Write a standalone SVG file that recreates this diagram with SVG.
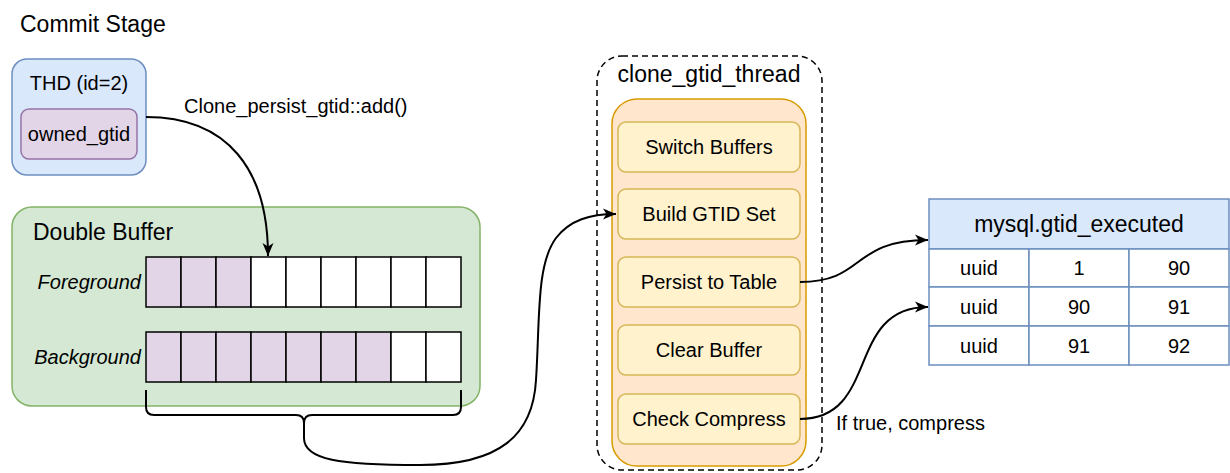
<svg xmlns="http://www.w3.org/2000/svg" width="1230" height="473" viewBox="0 0 1230 473">
<defs>
<style>
text{font-family:"Liberation Sans",Arial,Helvetica,sans-serif;fill:#000;}
.t{font-size:23px;}
.l{font-size:20px;}
.c{text-anchor:middle;}
.blue{fill:#dae8fc;stroke:#6c8ebf;stroke-width:1.5;}
.purple{fill:#e1d5e7;stroke:#9673a6;stroke-width:1.5;}
.green{fill:#d5e8d4;stroke:#82b366;stroke-width:1.5;}
.orange{fill:#ffe6cc;stroke:#d79b00;stroke-width:1.5;}
.yellow{fill:#fff2cc;stroke:#d6b656;stroke-width:1.5;}
.cellp{fill:#e1d5e7;stroke:#000;stroke-width:1.5;}
.cellw{fill:#fff;stroke:#000;stroke-width:1.5;}
.tcell{fill:#fff;stroke:#6c8ebf;stroke-width:1.5;}
.edge{fill:none;stroke:#000;stroke-width:2;}
.arrow{fill:none;stroke:#000;stroke-width:2;marker-end:url(#ah);}
</style>
<marker id="ah" markerUnits="userSpaceOnUse" markerWidth="14" markerHeight="12" refX="13" refY="6" orient="auto">
<path d="M0,0.5 L13,6 L0,11.5 L3.5,6 Z" fill="#000"/>
</marker>
</defs>
<rect width="1230" height="473" fill="#fff"/>

<g id="commit-stage-label">
<text class="t" x="20" y="32">Commit Stage</text>
</g>

<g id="thd">
<rect class="blue" x="12" y="59" width="134" height="116" rx="15"/>
<text class="l c" x="79" y="90">THD (id=2)</text>
</g>
<g id="owned-gtid">
<rect class="purple" x="21" y="109" width="116" height="50" rx="8"/>
<text class="l c" x="79" y="141">owned_gtid</text>
</g>

<g id="double-buffer">
<rect class="green" x="12" y="207" width="468" height="199" rx="20"/>
<text class="t" x="33" y="240">Double Buffer</text>
<text class="l" x="141" y="289" text-anchor="end" font-style="italic">Foreground</text>
<text class="l" x="141" y="364" text-anchor="end" font-style="italic">Background</text>
</g>

<g id="foreground-buffer">
<rect class="cellp" x="146" y="257" width="35" height="50"/>
<rect class="cellp" x="181" y="257" width="35" height="50"/>
<rect class="cellp" x="216" y="257" width="35" height="50"/>
<rect class="cellw" x="251" y="257" width="35" height="50"/>
<rect class="cellw" x="286" y="257" width="35" height="50"/>
<rect class="cellw" x="321" y="257" width="35" height="50"/>
<rect class="cellw" x="356" y="257" width="35" height="50"/>
<rect class="cellw" x="391" y="257" width="35" height="50"/>
<rect class="cellw" x="426" y="257" width="35" height="50"/>
</g>

<g id="background-buffer">
<rect class="cellp" x="146" y="332" width="35" height="50"/>
<rect class="cellp" x="181" y="332" width="35" height="50"/>
<rect class="cellp" x="216" y="332" width="35" height="50"/>
<rect class="cellp" x="251" y="332" width="35" height="50"/>
<rect class="cellp" x="286" y="332" width="35" height="50"/>
<rect class="cellp" x="321" y="332" width="35" height="50"/>
<rect class="cellp" x="356" y="332" width="35" height="50"/>
<rect class="cellw" x="391" y="332" width="35" height="50"/>
<rect class="cellw" x="426" y="332" width="35" height="50"/>
</g>

<g id="brace">
<path class="edge" d="M146,390 V407 Q146,415 154,415 H296 Q304,415 304,423 Q304,415 312,415 H453 Q461,415 461,407 V390"/>
</g>

<g id="clone-gtid-thread">
<rect x="597" y="56" width="225" height="414" rx="25" fill="none" stroke="#000" stroke-width="1.5" stroke-dasharray="6 4"/>
<text class="t c" x="709" y="82">clone_gtid_thread</text>
<rect class="orange" x="612" y="99" width="194" height="367" rx="25"/>
</g>

<g id="switch-buffers">
<rect class="yellow" x="618" y="122" width="182" height="50" rx="8"/>
<text class="l c" x="709" y="154">Switch Buffers</text>
</g>
<g id="build-gtid-set">
<rect class="yellow" x="618" y="189" width="182" height="50" rx="8"/>
<text class="l c" x="709" y="221">Build GTID Set</text>
</g>
<g id="persist-to-table">
<rect class="yellow" x="618" y="257" width="182" height="50" rx="8"/>
<text class="l c" x="709" y="289">Persist to Table</text>
</g>
<g id="clear-buffer">
<rect class="yellow" x="618" y="325" width="182" height="50" rx="8"/>
<text class="l c" x="709" y="357">Clear Buffer</text>
</g>
<g id="check-compress">
<rect class="yellow" x="618" y="394" width="182" height="50" rx="8"/>
<text class="l c" x="709" y="426">Check Compress</text>
</g>

<g id="gtid-executed-table">
<rect class="blue" x="929" y="199" width="300" height="50"/>
<text class="c" x="1079" y="232" font-size="23">mysql.gtid_executed</text>
<rect class="tcell" x="929" y="249" width="100" height="38"/>
<rect class="tcell" x="1029" y="249" width="100" height="38"/>
<rect class="tcell" x="1129" y="249" width="100" height="38"/>
<rect class="tcell" x="929" y="287" width="100" height="39"/>
<rect class="tcell" x="1029" y="287" width="100" height="39"/>
<rect class="tcell" x="1129" y="287" width="100" height="39"/>
<rect class="tcell" x="929" y="326" width="100" height="39"/>
<rect class="tcell" x="1029" y="326" width="100" height="39"/>
<rect class="tcell" x="1129" y="326" width="100" height="39"/>
<text class="l c" x="979" y="275">uuid</text>
<text class="l c" x="1079" y="275">1</text>
<text class="l c" x="1179" y="275">90</text>
<text class="l c" x="979" y="313.5">uuid</text>
<text class="l c" x="1079" y="313.5">90</text>
<text class="l c" x="1179" y="313.5">91</text>
<text class="l c" x="979" y="352.5">uuid</text>
<text class="l c" x="1079" y="352.5">91</text>
<text class="l c" x="1179" y="352.5">92</text>
</g>

<g id="connectors">
<path class="arrow" d="M146,117 C228,117 268,170 268,256"/>
<text class="l" x="184" y="113">Clone_persist_gtid::add()</text>
<path class="arrow" d="M304,420 V438 C304,460 340,465 420,465 C500,465 533,435 536,380 C540,320 536,265 556,238 C570,220 590,214 616,214"/>
<path class="arrow" d="M800,282 C866,282 850,240 928,240"/>
<path class="arrow" d="M800,419 C880,419 845,307 928,307"/>
<text class="l" x="836" y="430">If true, compress</text>
</g>
</svg>
